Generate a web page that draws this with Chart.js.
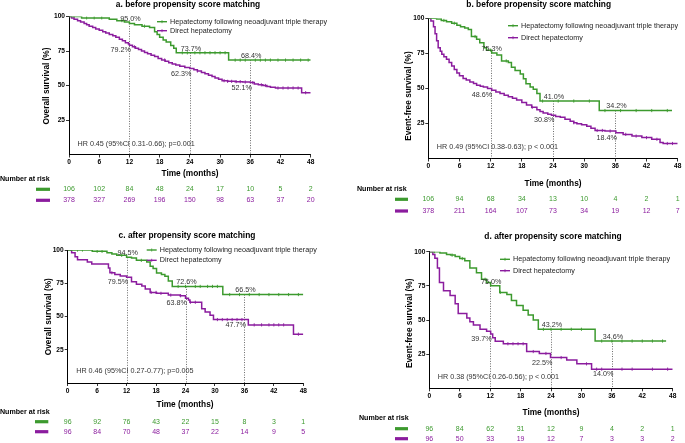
<!DOCTYPE html>
<html><head><meta charset="utf-8">
<script src="https://cdn.jsdelivr.net/npm/chart.js@4/dist/chart.umd.min.js"></script>
<style>
html,body{margin:0;padding:0;background:#fff;width:685px;height:443px;overflow:hidden}
canvas{position:absolute;left:0;top:0}
</style></head>
<body>
<canvas id="ca" width="685" height="443"></canvas>
<canvas id="cb" width="685" height="443"></canvas>
<canvas id="cc" width="685" height="443"></canvas>
<canvas id="cd" width="685" height="443"></canvas>
<script>
// ---------------- DATA ----------------
const timeTicks = [0, 6, 12, 18, 24, 30, 36, 42, 48];
const yTicks = [0, 25, 50, 75, 100];
const landmarks = [12, 24, 36];
const seriesNames = ['Hepatectomy following neoadjuvant triple therapy', 'Direct hepatectomy'];

// Panel a: overall survival, before PSM
const aGreenT = [0,2.5,8,9.5,11,12,13,14.5,16,17,17.5,18,18.7,19.3,20.2,20.8,21.3,31.7,48];
const aGreenS = [100,99,98,97,96,95,94,93,92,89,87,85,83,81.5,79,77,73.7,68.4,68.4];
const aPurpleT = [0,0.5,1,1.7,2.3,3,3.5,4,4.7,5.3,6,6.7,7.3,8,8.7,9.3,10,10.6,11.2,11.8,12,12.6,13.2,13.8,14.4,15,15.6,16.3,17,17.7,18.4,19.1,19.8,20.5,21.2,22,23,24,24.8,25.5,26.3,27,27.7,28.4,29,29.7,30.4,31.5,33,34.5,36,36.8,37.6,38.5,39.3,40,41,46.2,48];
const aPurpleS = [100,99,98,97,96,95,94,93,92,91,90,89,88,87,86,85,83.5,82.5,81,80,79.2,78,77,76,75,74,73,72,71,69.5,68.5,67.5,66.5,65.5,64.8,64,63,62.3,61.5,60.5,59.5,58.5,57.5,56.5,55.5,54.5,53.5,53,52.8,52.5,52.1,51,50.5,50,49.3,48.7,48.2,44.8,44.8];
const aGreenCens = [1,3.5,5,6.5,10.5,15,22.5,23.5,25,26,27,28,29,30,31,33,34,35,37,38,39,40,41.5,43,44.5,46,47.5];
const aPurpleCens = [13,19,25.5,30.8,31.5,32.3,33.2,34,35,36.5,38.2,39,41.5,42.5,43.5,44.5,45.5,47];
const aRiskGreen = [106,102,84,48,24,17,10,5,2];
const aRiskPurple = [378,327,269,196,150,98,63,37,20];
const aTopVals = [95.0,73.7,68.4];
const aTopLabels = ['95.0%','73.7%','68.4%'];
const aBotVals = [79.2,62.3,52.1];
const aBotLabels = ['79.2%','62.3%','52.1%'];
const aHR = 'HR 0.45 (95%CI 0.31-0.66); p=0.001';

// Panel b: event-free survival, before PSM
const bGreenT = [0,1.6,2.5,3.5,4.5,5.5,6.2,7,7.7,8.3,9.3,9.9,10.7,11.2,12.2,13.2,14.1,15.4,16,16.7,17.7,18.3,18.8,19.6,20.2,20.9,21.5,32.9,46.9];
const bGreenS = [100,99.5,98.5,97.5,96.5,95,94,93,92,87,85,82.5,79,77.3,75.3,73.8,69.6,68.5,65,62.7,60.3,56.8,53.3,51,49.4,46.4,41,34.2,34.2];
const bPurpleT = [0,0.5,1,1.3,1.6,1.9,2.3,2.6,3,3.5,4,4.5,5,5.5,6,6.7,7.3,8,8.7,9.3,10,10.6,11.4,12.2,13,13.8,14.6,15.4,16.2,17,18,18.9,19.9,20.9,21.5,22.1,23,23.7,24.5,25.4,26.3,27.3,28,28.6,29.5,30.5,31.3,32.1,34,36.1,37.5,39.2,41.1,43,44.6,45.2,48];
const bPurpleS = [100,98,94,89,84,79,76.5,74.3,72.5,70.8,68.5,66,63.5,61,59,57,56,54.5,53.5,52.2,51.5,51,50,48.6,47.5,46.4,45.2,44,43,41.7,40,38.2,36.5,34.7,33.5,32.4,31.5,30.8,30,29.4,28,26.6,25.5,24.7,24,23,21.5,20,19.6,18.4,17.2,16,14.9,13.7,11.4,10.7,10.7];
const bGreenCens = [3,5,9,12,15,22,25,28,31,34,37,40,43,46];
const bPurpleCens = [20,28,32.5,33.5,35,38,40,42,44,46,47];
const bRiskGreen = [106,94,68,34,13,10,4,2,1];
const bRiskPurple = [378,211,164,107,73,34,19,12,7];
const bTopVals = [75.3,41.0,34.2];
const bTopLabels = ['75.3%','41.0%','34.2%'];
const bBotVals = [48.6,30.8,18.4];
const bBotLabels = ['48.6%','30.8%','18.4%'];
const bHR = 'HR 0.49 (95%CI 0.38-0.63); p < 0.001';

// Panel c: overall survival, after PSM
const cGreenT = [0,5,8,9,10,12,13,14,16.1,16.8,17.4,18.1,19.1,19.8,20.5,21.3,31.6,48];
const cGreenS = [100,99,98,97,96,94.5,94,92.2,91,87.8,86,82.8,81.6,80.3,76.7,72.6,66.5,66.5];
const cPurpleT = [0,0.8,1.5,2,4,4.9,8.3,8.6,9.6,10.7,12,13,14,15.1,15.8,16.8,18.1,20.5,22.9,24,24.6,24.9,27.3,28,29,29.7,36.8,46,48];
const cPurpleS = [100,98,95,92.7,91,89.5,86.5,82.9,81.6,80.4,79.5,76.2,74.3,73,70.6,68.1,67.4,66.1,65.6,63.8,62.5,60.7,55.8,53.4,50.9,47.7,43.7,36.7,36.7];
const cGreenCens = [2,3,6,7,11,15,22.5,24,26,27,28.5,29.5,30.5,33,35,37,39,41,43,45,47];
const cPurpleCens = [9,17,18,19,21,23,25,26,30.5,31.5,32.5,33.5,34.5,35.5,38,39.5,41,42,43,44,47];
const cRiskGreen = [96,92,76,43,22,15,8,3,1];
const cRiskPurple = [96,84,70,48,37,22,14,9,5];
const cTopVals = [94.5,72.6,66.5];
const cTopLabels = ['94.5%','72.6%','66.5%'];
const cBotVals = [79.5,63.8,47.7];
const cBotLabels = ['79.5%','63.8%','47.7%'];
const cHR = 'HR 0.46 (95%CI 0.27-0.77); p=0.005';

// Panel d: event-free survival, after PSM
const dGreenT = [0,2.1,3.4,4.2,5.1,6,7,8,9.3,10.3,11.3,12.1,13.9,15.3,16.2,17.2,18.5,19.5,20.5,21.5,32.7,46.7];
const dGreenS = [100,99,98,97.5,96.4,95,93.3,88,84.5,79.8,77.4,75,70.2,68.6,64.3,60.7,57.1,53.6,50,43.2,34.6,34.6];
const dPurpleT = [0,0.7,1.1,1.6,2,2.8,4.1,5.1,5.7,7.4,8,8.7,10,11.3,12.1,12.5,13,14.6,19.2,21.7,23.9,27.1,29.1,32,48];
const dPurpleS = [100,98,95.2,88,77.4,71.4,67.9,61.9,54.8,51.5,48.8,46.4,43.3,41.7,39.7,37,34.5,32.6,26.9,25.5,22.5,20.7,17.9,14.0,14.0];
const dGreenCens = [1,4.5,6.5,11,14,22.5,24,26,28,30,34,36,38,40,42,44,46];
const dPurpleCens = [15.5,16.5,17.5,18.5,20.5,23,26,31,33,34,38,40,44,47];
const dRiskGreen = [96,84,62,31,12,9,4,2,1];
const dRiskPurple = [96,50,33,19,12,7,3,3,2];
const dTopVals = [75.0,43.2,34.6];
const dTopLabels = ['75.0%','43.2%','34.6%'];
const dBotVals = [39.7,22.5,14.0];
const dBotLabels = ['39.7%','22.5%','14.0%'];
const dHR = 'HR 0.38 (95%CI 0.26-0.56); p < 0.001';

// ---------------- STYLE / LAYOUT ----------------
const GREEN = '#3c9a2e';
const PURPLE = '#8b1c9e';
const FONT = "'Liberation Sans', Arial, Helvetica, sans-serif";
const YW = 30, XH = 14;

const panels = [
  {id:'ca', area:{l:69, r:310.7, t:16.5, b:154.5}, title:'a. before propensity score matching', titleX:188, titleY:5,
   yTitle:'Overall survival (%)', yTitleX:47, yTitleY:86, legX:157, legY:[21.7,30.7], timeX:190, timeY:173.3,
   narX:0, narY:179, rowY:[189.3,200.3], markX:[36,50], hrY:144.3,
   g:[aGreenT,aGreenS,aGreenCens], p:[aPurpleT,aPurpleS,aPurpleCens], risk:[aRiskGreen,aRiskPurple],
   top:[aTopVals,aTopLabels], bot:[aBotVals,aBotLabels], hr:aHR},
  {id:'cb', area:{l:428.3, r:677.7, t:18.3, b:158.5}, title:'b. before propensity score matching', titleX:538.7, titleY:5,
   yTitle:'Event-free survival (%)', yTitleX:408.3, yTitleY:96, legX:508, legY:[25.7,37.7], timeX:553, timeY:183.3,
   narX:357, narY:189, rowY:[199.3,211], markX:[395,408], hrY:146.7,
   g:[bGreenT,bGreenS,bGreenCens], p:[bPurpleT,bPurpleS,bPurpleCens], risk:[bRiskGreen,bRiskPurple],
   top:[bTopVals,bTopLabels], bot:[bBotVals,bBotLabels], hr:bHR},
  {id:'cc', area:{l:67.7, r:303.3, t:250, b:383}, title:'c. after propensity score matching', titleX:187, titleY:236,
   yTitle:'Overall survival (%)', yTitleX:48.3, yTitleY:316.7, legX:146.7, legY:[250,260.3], timeX:185, timeY:405,
   narX:0, narY:411.7, rowY:[421.7,431.7], markX:[35,48.3], hrY:371,
   g:[cGreenT,cGreenS,cGreenCens], p:[cPurpleT,cPurpleS,cPurpleCens], risk:[cRiskGreen,cRiskPurple],
   top:[cTopVals,cTopLabels], bot:[cBotVals,cBotLabels], hr:cHR},
  {id:'cd', area:{l:429.3, r:672.7, t:251.7, b:388.3}, title:'d. after propensity score matching', titleX:553, titleY:236.7,
   yTitle:'Event-free survival (%)', yTitleX:410, yTitleY:323.3, legX:500, legY:[259.3,270.7], timeX:551, timeY:412.7,
   narX:359, narY:418.3, rowY:[428.7,438.7], markX:[395,408], hrY:377.3,
   g:[dGreenT,dGreenS,dGreenCens], p:[dPurpleT,dPurpleS,dPurpleCens], risk:[dRiskGreen,dRiskPurple],
   top:[dTopVals,dTopLabels], bot:[dBotVals,dBotLabels], hr:dHR}
];

function toPts(T, S) { return T.map((t, i) => ({x: t, y: S[i]})); }
function survAt(T, S, t) { let v = S[0]; for (let i = 0; i < T.length; i++) { if (T[i] <= t) v = S[i]; } return v; }
function censPts(T, S, C) { return C.map(t => ({x: t, y: survAt(T, S, t)})); }

function makePanel(P) {
  const annot = {
    id: 'annot_' + P.id,
    beforeDatasetsDraw(chart) {
      const ctx = chart.ctx, xs = chart.scales.x, ys = chart.scales.y;
      ctx.save();
      ctx.strokeStyle = '#444'; ctx.lineWidth = 0.8; ctx.setLineDash([1, 1.5]);
      landmarks.forEach((lm, i) => {
        const x = Math.round(xs.getPixelForValue(lm)) + 0.5;
        const top = Math.max(P.top[0][i], P.bot[0][i]);
        ctx.beginPath();
        ctx.moveTo(x, ys.getPixelForValue(top));
        ctx.lineTo(x, ys.getPixelForValue(0));
        ctx.stroke();
      });
      ctx.restore();
    },
    afterDraw(chart) {
      const ctx = chart.ctx, xs = chart.scales.x, ys = chart.scales.y, a = chart.chartArea;
      ctx.save();
      ctx.fillStyle = '#333';
      ctx.font = '7.2px ' + FONT;
      landmarks.forEach((lm, i) => {
        const x = xs.getPixelForValue(lm);
        ctx.textAlign = 'center'; ctx.textBaseline = 'bottom';
        ctx.fillText(P.top[1][i], x + 1, ys.getPixelForValue(P.top[0][i]) - 0.5);
        ctx.textAlign = 'right'; ctx.textBaseline = 'top';
        ctx.fillText(P.bot[1][i], x + 1.5, ys.getPixelForValue(P.bot[0][i]) + 1.5);
      });
      ctx.textAlign = 'left'; ctx.textBaseline = 'middle';
      ctx.fillText(P.hr, a.left + 8.5, P.hrY);
      [GREEN, PURPLE].forEach((c, i) => {
        const y = P.legY[i];
        ctx.strokeStyle = c; ctx.lineWidth = 1.4;
        ctx.beginPath(); ctx.moveTo(P.legX, y); ctx.lineTo(P.legX + 10, y); ctx.stroke();
        ctx.lineWidth = 0.8;
        ctx.beginPath(); ctx.moveTo(P.legX + 5, y - 1.5); ctx.lineTo(P.legX + 5, y + 1.5); ctx.stroke();
        ctx.fillStyle = '#222'; ctx.font = '7.2px ' + FONT;
        ctx.textAlign = 'left'; ctx.textBaseline = 'middle';
        ctx.fillText(seriesNames[i], P.legX + 13, y);
      });
      ctx.fillStyle = '#000';
      ctx.font = 'bold 8.4px ' + FONT;
      ctx.textAlign = 'center'; ctx.textBaseline = 'middle';
      ctx.fillText(P.title, P.titleX, P.titleY);
      ctx.font = 'bold 8.3px ' + FONT;
      ctx.fillText('Time (months)', P.timeX, P.timeY);
      ctx.save();
      ctx.translate(P.yTitleX, P.yTitleY);
      ctx.rotate(-Math.PI / 2);
      ctx.fillText(P.yTitle, 0, 0);
      ctx.restore();
      ctx.font = 'bold 7.1px ' + FONT;
      ctx.textAlign = 'left';
      ctx.fillText('Number at risk', P.narX, P.narY);
      [GREEN, PURPLE].forEach((c, i) => {
        const y = P.rowY[i];
        ctx.fillStyle = c;
        ctx.fillRect(P.markX[0], y - 1.6, P.markX[1] - P.markX[0], 3.2);
        ctx.font = '7px ' + FONT;
        ctx.textAlign = 'center'; ctx.textBaseline = 'middle';
        P.risk[i].forEach((n, k) => ctx.fillText(String(n), xs.getPixelForValue(timeTicks[k]), y));
      });
      ctx.restore();
    }
  };

  const tickFont = {family: FONT, size: 6.6, weight: 'bold'};
  new Chart(document.getElementById(P.id), {
    type: 'line',
    data: {datasets: [
      {data: toPts(P.g[0], P.g[1]), borderColor: GREEN, borderWidth: 1.5, stepped: 'before', pointRadius: 0, fill: false},
      {data: toPts(P.p[0], P.p[1]), borderColor: PURPLE, borderWidth: 1.5, stepped: 'before', pointRadius: 0, fill: false},
      {data: censPts(P.g[0], P.g[1], P.g[2]), showLine: false, pointStyle: 'line', rotation: 90, pointRadius: 1.6, pointBorderColor: GREEN, pointBorderWidth: 0.9, borderColor: GREEN},
      {data: censPts(P.p[0], P.p[1], P.p[2]), showLine: false, pointStyle: 'line', rotation: 90, pointRadius: 1.6, pointBorderColor: PURPLE, pointBorderWidth: 0.9, borderColor: PURPLE}
    ]},
    options: {
      responsive: false, animation: false, events: [],
      layout: {padding: {left: P.area.l - YW, right: 685 - P.area.r, top: P.area.t, bottom: 443 - P.area.b - XH}},
      plugins: {legend: {display: false}, title: {display: false}, tooltip: {enabled: false}},
      scales: {
        x: {type: 'linear', min: 0, max: 48,
            afterBuildTicks: s => { s.ticks = timeTicks.map(v => ({value: v})); },
            afterFit: s => { s.height = XH; },
            ticks: {autoSkip: false, maxRotation: 0, minRotation: 0, font: tickFont, color: '#000', padding: 1},
            grid: {drawOnChartArea: false, drawTicks: true, tickLength: 3, color: '#000', lineWidth: 0.8},
            border: {display: true, color: '#000', width: 1}},
        y: {type: 'linear', min: 0, max: 100,
            afterBuildTicks: s => { s.ticks = yTicks.map(v => ({value: v})); },
            afterFit: s => { s.width = YW; },
            ticks: {font: tickFont, color: '#000', padding: 1, callback: v => (v === 0 ? '' : String(v))},
            grid: {drawOnChartArea: false, drawTicks: true, tickLength: 3, lineWidth: 0.8,
                   color: c => (c.tick && c.tick.value === 0 ? 'rgba(0,0,0,0)' : '#000')},
            border: {display: true, color: '#000', width: 1}}
      }
    },
    plugins: [annot]
  });
}

panels.forEach(makePanel);
</script>
</body></html>
